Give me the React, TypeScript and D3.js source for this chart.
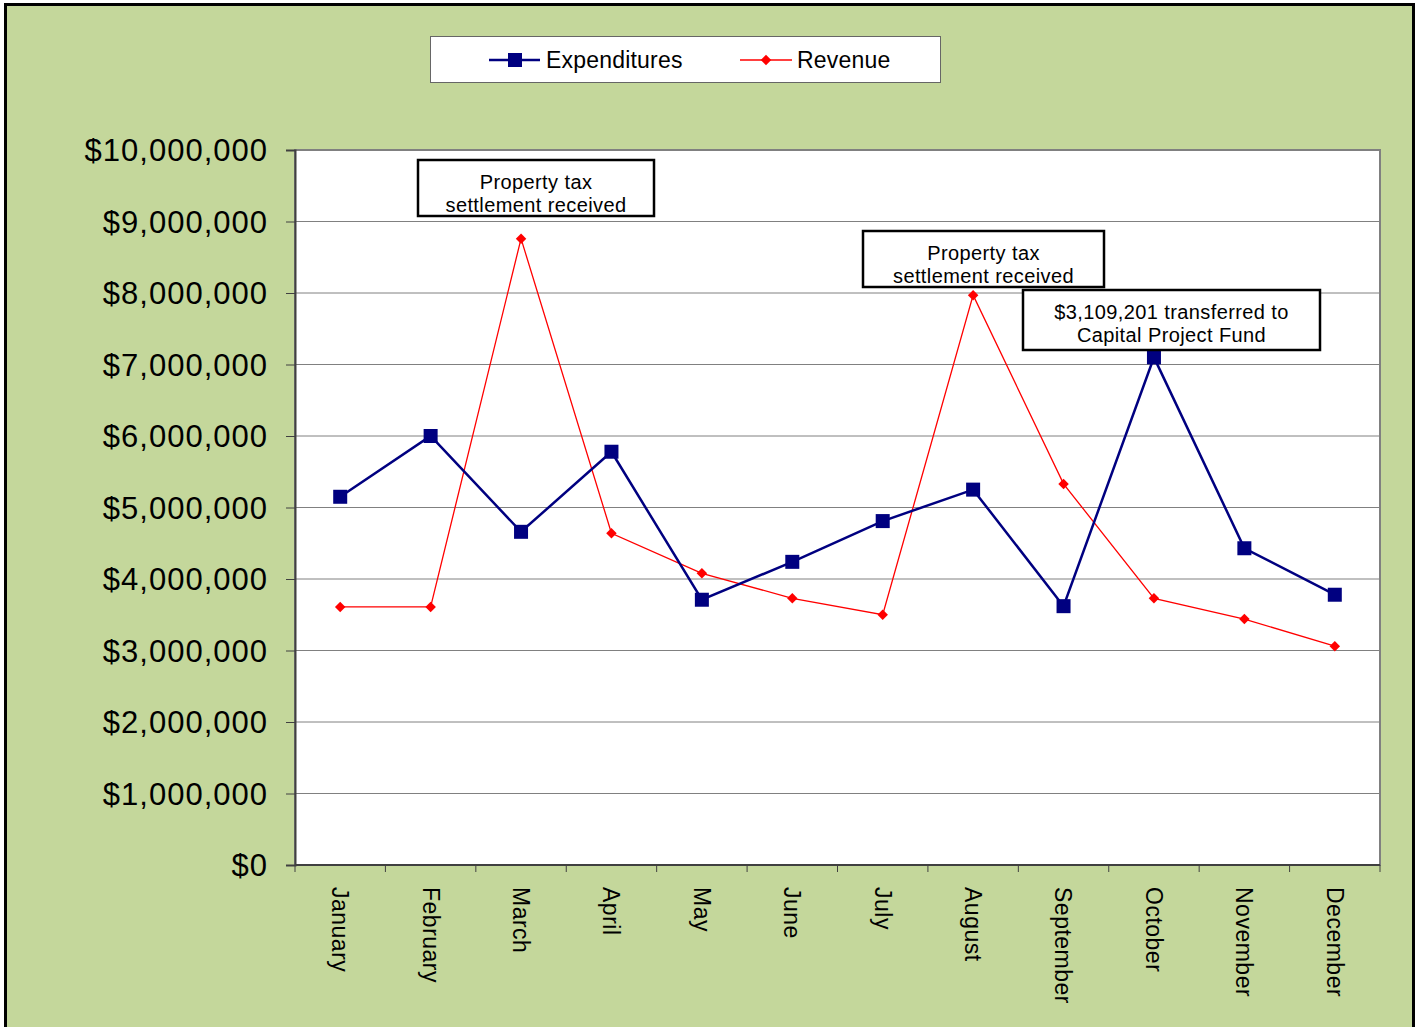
import React, { useRef, useEffect } from "react";
import * as d3 from "d3";

const months = [
  "January", "February", "March", "April", "May", "June",
  "July", "August", "September", "October", "November", "December",
];
const expenditures = [
  5150000, 6000000, 4660000, 5780000, 3710000, 4240000,
  4810000, 5250000, 3620000, 7100000, 4430000, 3780000,
];
const revenue = [
  3610000, 3610000, 8760000, 4640000, 4080000, 3730000,
  3500000, 7970000, 5330000, 3730000, 3440000, 3060000,
];
const yTicks = d3.range(0, 10000001, 1000000);

const notes = [
  { lines: ["Property tax", "settlement received"], x: 418, y: 160, w: 236, h: 56 },
  { lines: ["Property tax", "settlement received"], x: 863, y: 231, w: 241, h: 56 },
  { lines: ["$3,109,201 transferred to", "Capital Project Fund"], x: 1023, y: 290, w: 297, h: 60 },
];

function App() {
  const svgRef = useRef<SVGSVGElement>(null);
  const W = 1418;
  const H = 1027;
  const left = 295, right = 1380, top = 150, bottom = 865;
  const font = "'Liberation Sans', Arial, sans-serif";

  useEffect(() => {
    const svg = d3.select(svgRef.current);
    svg.selectAll("*").remove();

    // background and frame
    svg.append("rect").attr("x", 0).attr("y", 0).attr("width", W).attr("height", H).attr("fill", "#fff");
    svg.append("rect").attr("x", 5.5).attr("y", 4.5).attr("width", 1408).attr("height", 1030)
      .attr("fill", "#C4D79B").attr("stroke", "#000").attr("stroke-width", 3);

    const x = d3.scaleBand().domain(months).range([left, right]);
    const y = d3.scaleLinear().domain([0, 10000000]).range([bottom, top]);

    // plot area
    svg.append("rect").attr("x", left).attr("y", top).attr("width", right - left).attr("height", bottom - top)
      .attr("fill", "#fff").attr("stroke", "#808080").attr("stroke-width", 2);

    // gridlines
    svg.append("g").selectAll("line").data(yTicks.slice(1)).join("line")
      .attr("x1", left).attr("x2", right)
      .attr("y1", (d) => y(d)).attr("y2", (d) => y(d))
      .attr("stroke", "#808080").attr("stroke-width", 1);

    // y axis
    const yAxis = d3.axisLeft(y).tickValues(yTicks).tickSize(9).tickPadding(18)
      .tickFormat((d) => "$" + d3.format(",")(d as number));
    const gy = svg.append("g").attr("transform", `translate(${left},0)`).call(yAxis);
    gy.select(".domain").attr("stroke", "#404040").attr("stroke-width", 2);
    gy.selectAll(".tick line").attr("stroke", "#404040");
    gy.selectAll("text").attr("font-family", font).attr("font-size", 31)
      .attr("letter-spacing", 1).attr("fill", "#000").attr("dy", "0.35em");

    // x axis
    const gx = svg.append("g").attr("transform", `translate(0,${bottom})`);
    gx.append("line").attr("x1", left).attr("x2", right).attr("y1", 0).attr("y2", 0)
      .attr("stroke", "#404040").attr("stroke-width", 2);
    const edges = months.map((m) => x(m) as number).concat([right]);
    gx.selectAll(".tk").data(edges).join("line").attr("class", "tk")
      .attr("x1", (d) => d).attr("x2", (d) => d).attr("y1", 0).attr("y2", 7)
      .attr("stroke", "#404040").attr("stroke-width", 1);
    gx.selectAll(".lbl").data(months).join("text").attr("class", "lbl")
      .attr("transform", (d) => `translate(${(x(d) as number) + x.bandwidth() / 2},${22}) rotate(90)`)
      .attr("dy", "0.35em")
      .attr("font-family", font).attr("font-size", 23).attr("letter-spacing", 0.5).attr("fill", "#000")
      .text((d) => d);

    const cx = (i: number) => (x(months[i]) as number) + x.bandwidth() / 2;

    // revenue line
    const line = d3.line<number>().x((_, i) => cx(i)).y((d) => y(d));
    svg.append("path").datum(revenue).attr("d", line).attr("fill", "none")
      .attr("stroke", "#FF0000").attr("stroke-width", 1.3);
    svg.append("g").selectAll("path").data(revenue).join("path")
      .attr("d", d3.symbol(d3.symbolDiamond2, 70))
      .attr("transform", (d, i) => `translate(${cx(i)},${y(d)})`)
      .attr("fill", "#FF0000");

    // expenditures line
    svg.append("path").datum(expenditures).attr("d", line).attr("fill", "none")
      .attr("stroke", "#000080").attr("stroke-width", 2.5);
    svg.append("g").selectAll("rect").data(expenditures).join("rect")
      .attr("x", (d, i) => cx(i) - 7).attr("y", (d) => y(d) - 7)
      .attr("width", 14).attr("height", 14).attr("fill", "#000080");

    // annotations
    notes.forEach((n) => {
      const g = svg.append("g");
      g.append("rect").attr("x", n.x).attr("y", n.y).attr("width", n.w).attr("height", n.h)
        .attr("fill", "#fff").attr("stroke", "#000").attr("stroke-width", 2.5);
      n.lines.forEach((t, i) => {
        g.append("text").attr("x", n.x + n.w / 2).attr("y", n.y + 29 + i * 23)
          .attr("text-anchor", "middle").attr("font-family", font).attr("font-size", 20)
          .attr("letter-spacing", 0.4).attr("fill", "#000").text(t);
      });
    });

    // legend
    const lg = svg.append("g");
    lg.append("rect").attr("x", 430.5).attr("y", 36.5).attr("width", 510).attr("height", 46)
      .attr("fill", "#fff").attr("stroke", "#666").attr("stroke-width", 1);
    lg.append("line").attr("x1", 489).attr("x2", 540).attr("y1", 60).attr("y2", 60)
      .attr("stroke", "#000080").attr("stroke-width", 2.5);
    lg.append("rect").attr("x", 508).attr("y", 53).attr("width", 14).attr("height", 14).attr("fill", "#000080");
    lg.append("text").attr("x", 546).attr("y", 60).attr("dy", "0.35em").attr("font-family", font)
      .attr("font-size", 23).attr("letter-spacing", 0.2).attr("fill", "#000").text("Expenditures");
    lg.append("line").attr("x1", 740).attr("x2", 792).attr("y1", 60).attr("y2", 60)
      .attr("stroke", "#FF0000").attr("stroke-width", 1.3);
    lg.append("path").attr("d", d3.symbol(d3.symbolDiamond2, 70))
      .attr("transform", "translate(766,60)").attr("fill", "#FF0000");
    lg.append("text").attr("x", 797).attr("y", 60).attr("dy", "0.35em").attr("font-family", font)
      .attr("font-size", 23).attr("letter-spacing", 0.2).attr("fill", "#000").text("Revenue");
  }, []);

  return (
    <svg ref={svgRef} width={W} height={H} style={{ position: "absolute", left: 0, top: 0 }} />
  );
}

export default App;
